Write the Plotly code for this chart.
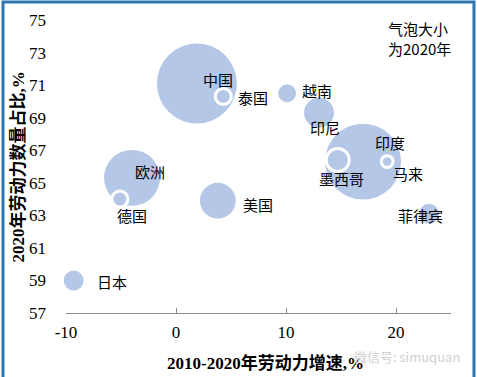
import plotly.graph_objects as go

# Data
countries = ["中国", "印度", "欧洲", "美国", "印尼", "日本", "菲律宾", "越南", "泰国", "墨西哥", "马来", "德国"]
growth = [1.9, 17.0, -4.0, 3.8, 13.0, -9.3, 23.0, 10.1, 4.3, 14.7, 19.2, -5.1]      # 2010-2020 labour growth, %
share = [71.1, 66.3, 65.3, 63.9, 69.3, 59.0, 63.1, 70.5, 70.3, 66.4, 66.3, 64.0]     # 2020 labour share, %
labour_2020 = [1000, 900, 490, 200, 140, 62, 62, 50, 40, 83, 22, 40]                 # bubble size (2020 labour force)
ringed = [0, 0, 0, 0, 0, 0, 0, 0, 1, 1, 1, 1]

x_ticks = [-10, 0, 10, 20]
x_tick_text = ["-10", "0", "10", "20"]
y_ticks = [57, 59, 61, 63, 65, 67, 69, 71, 73, 75]

# label offsets (px) relative to bubble centres
label_dx = [21, 27, 18, 40, 6, 38, -9, 30, 30, 4, 21, 12]
label_dy = [4, 19, 6, -4, -15, -1, -2, 3, -1, -19, -12, -16]

BUBBLE = "#b4c7e7"
AXIS = "#8c8c8c"
SERIF = "Liberation Serif, Times New Roman, serif"
CJK = "Noto Sans CJK SC, sans-serif"

fig = go.Figure()
fig.add_trace(go.Scatter(
    x=growth, y=share, mode="markers",
    marker=dict(
        size=labour_2020, sizemode="area", sizeref=0.3125,
        color=BUBBLE, opacity=1,
        line=dict(color="white", width=[3 if r else 0 for r in ringed]),
    ),
    hoverinfo="skip", showlegend=False, cliponaxis=False,
))

for name, gx, sy, dx, dy in zip(countries, growth, share, label_dx, label_dy):
    fig.add_annotation(x=gx, y=sy, xref="x", yref="y", text=name, showarrow=False,
                       xanchor="center", yanchor="middle",
                       xshift=dx, yshift=dy, font=dict(family=CJK, size=15, color="black"))

fig.add_annotation(xref="paper", yref="paper", x=0.831, y=0.937, xanchor="left", yanchor="middle",
                   text="气泡大小<br>为2020年", align="left", showarrow=False,
                   font=dict(family=CJK, size=15, color="black"))

fig.add_annotation(xref="paper", yref="paper", x=-0.125, y=0.5, textangle=-90,
                   xanchor="center", yanchor="middle",
                   text="<b>2020年劳动力数量占比,%</b>", showarrow=False,
                   font=dict(family=SERIF + ", Noto Sans CJK SC", size=17, color="black"))
fig.add_annotation(xref="paper", yref="paper", x=0.517, y=-0.171,
                   xanchor="center", yanchor="middle",
                   text="<b>2010-2020年劳动力增速,%</b>", showarrow=False,
                   font=dict(family=SERIF + ", Noto Sans CJK SC", size=17, color="black"))
fig.add_annotation(xref="paper", yref="paper", x=0.885, y=-0.148,
                   xanchor="center", yanchor="middle",
                   text="微信号: simuquan", showarrow=False,
                   font=dict(family=CJK, size=13, color="#d0d0d0"))

# outer blue frame
fig.add_shape(type="rect", xref="paper", yref="paper", x0=-0.1636, x1=1.0597, y0=-0.23, y1=1.0614,
              line=dict(color="#2e75b6", width=3), fillcolor="rgba(0,0,0,0)", layer="above")

fig.update_layout(
    width=477, height=377,
    margin=dict(l=66, r=26, t=20, b=64),
    plot_bgcolor="white", paper_bgcolor="white",
    xaxis=dict(range=[-10, 25], tickvals=x_ticks, ticktext=x_tick_text, showgrid=False, zeroline=False,
               showline=True, linecolor=AXIS, linewidth=1,
               ticks="inside", ticklen=5, tickcolor=AXIS,
               tickfont=dict(family=SERIF, size=17, color="black"), ticklabelstandoff=4),
    yaxis=dict(range=[57, 75], tickvals=y_ticks, showgrid=False, zeroline=False,
               showline=False, ticks="",
               tickfont=dict(family=SERIF, size=17, color="black"), ticklabelstandoff=19),
    yaxis2=dict(range=[57, 75], overlaying="y", anchor="free", position=10 / 35,
                tickvals=y_ticks, showgrid=False, zeroline=False, showticklabels=False,
                showline=True, linecolor=AXIS, linewidth=1, ticks="outside", ticklen=5, tickcolor=AXIS),
)

fig.write_html("out.html", config={"displayModeBar": False},
               post_script="document.body.style.margin='0';document.body.style.overflow='hidden';")
